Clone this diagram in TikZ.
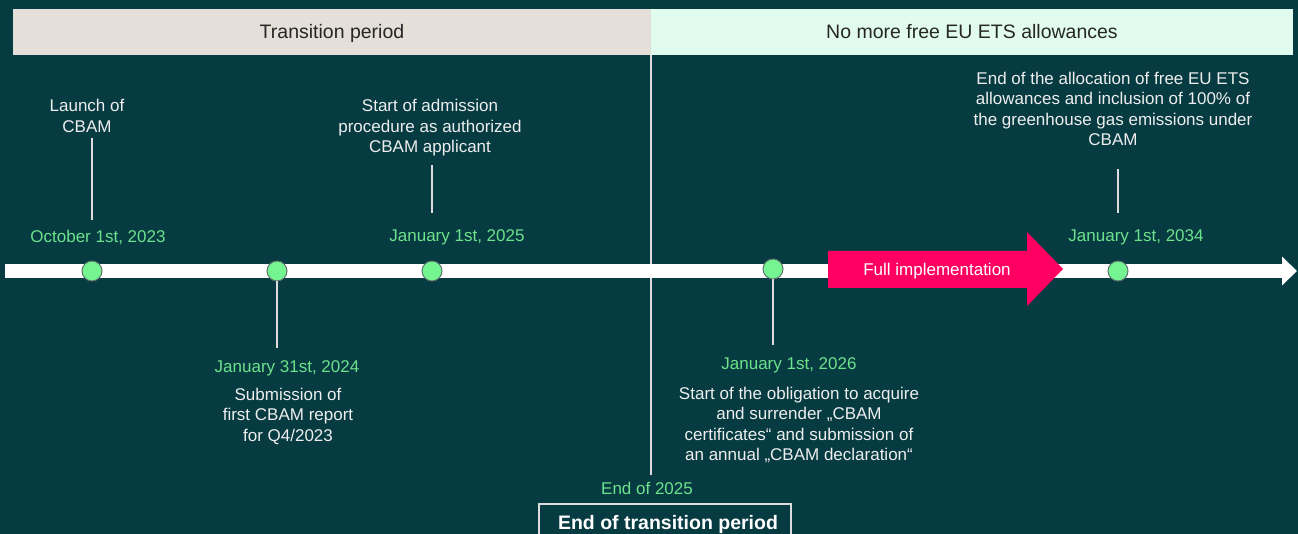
\documentclass[tikz,border=0pt]{standalone}
\usepackage{fontspec}
\setmainfont{Liberation Sans}
\usetikzlibrary{arrows.meta,calc}
\definecolor{bgc}{HTML}{063B41}
\definecolor{beige}{HTML}{E5DFD9}
\definecolor{mint}{HTML}{E1FBEE}
\definecolor{datec}{HTML}{6CE28C}
\definecolor{dotc}{HTML}{74F592}
\definecolor{dotb}{HTML}{5E706C}
\definecolor{txtc}{HTML}{EEEEEE}
\definecolor{pinkc}{HTML}{FF0062}
\definecolor{linec}{HTML}{DCDCDC}
\begin{document}
\begin{tikzpicture}[x=1pt,y=-1pt,
  topbar/.style={inner sep=0pt,minimum height=46pt,text height=17.5pt,text depth=4pt,text=black!85,font=\fontsize{19.5}{22}\selectfont},
  desc/.style={inner sep=0pt,align=center,text=txtc,font=\fontsize{17}{20.5}\selectfont},
  datelbl/.style={inner sep=0pt,text=datec,font=\fontsize{17}{20.5}\selectfont},
  milestone/.style={circle,minimum size=20pt,inner sep=0pt,fill=dotc,draw=dotb,line width=1pt},
  tick/.style={draw=linec,line width=1.5pt},
]
\useasboundingbox (0,0) rectangle (1298,534);
\fill[bgc] (0,0) rectangle (1298,534);
% top bars
\node[topbar,fill=beige,minimum width=638pt] (tp) at (332,32) {Transition period};
\node[topbar,fill=mint,minimum width=642pt] (nf) at (972,32) {No more free EU ETS allowances};
% divider
\coordinate (divtop) at (651,55);
\coordinate (divbot) at (651,475);
\draw[linec,line width=2.5pt] (divtop) -- (divbot);
% timeline
\coordinate (tlstart) at (5,271);
\coordinate (tlend) at (1297,271);
\draw[white,line width=14pt,-{Triangle[length=15pt,width=28pt]}] (tlstart) -- (tlend);
% full implementation arrow
\fill[pinkc] (828,251) -- (1027,251) -- (1027,232) -- (1063,269) -- (1027,306) -- (1027,288) -- (828,288) -- cycle;
\node[desc,text=white] (full) at (937,271) {Full implementation};
% milestones
\node[milestone] (d1) at (92,271) {};
\node[milestone] (d2) at (277,271) {};
\node[milestone] (d3) at (432,271) {};
\node[milestone] (d4) at (773,269) {};
\node[milestone] (d5) at (1118,271) {};
% labels
\node[desc] (launch) at (87,116) {Launch of\\CBAM};
\node[datelbl] (oct) at (98,237) {October 1st, 2023};
\node[desc] (admission) at (430,128) {Start of admission\\procedure as authorized\\CBAM applicant};
\node[datelbl] (jan25) at (457,237) {January 1st, 2025};
\node[datelbl] (jan24) at (287,368) {January 31st, 2024};
\node[desc] (submission) at (288,416) {Submission of\\first CBAM report\\for Q4/2023};
\node[datelbl] (jan26) at (789,365) {January 1st, 2026};
\node[desc] (obligation) at (799,425) {Start of the obligation to acquire\\and surrender „CBAM\\certificates“ and submission of\\an annual „CBAM declaration“};
\node[datelbl] (end25) at (647,488) {End of 2025};
\node[draw=linec,line width=1.5pt,minimum width=252pt,minimum height=40pt,inner sep=0pt,text=white,font=\bfseries\fontsize{19.5}{22}\selectfont] (endbox) at (665,524) {\raisebox{2pt}{\hspace{6pt}End of transition period}};
\node[datelbl] (jan34) at (1136,237) {January 1st, 2034};
\node[desc] (endalloc) at (1113,109) {End of the allocation of free EU ETS\\allowances and inclusion of 100\% of\\the greenhouse gas emissions under\\CBAM};
% ticks
\draw[tick] (d1 |- launch.south) ++(0,5) -- ($(d1 |- oct.north)+(0,-10)$);
\draw[tick] (d3 |- admission.south) ++(0,8) -- ($(d3 |- jan25.north)+(0,-16)$);
\draw[tick] (d5 |- endalloc.south) ++(0,23) -- ($(d5 |- jan34.north)+(0,-16)$);
\draw[tick] (d2.south) -- ($(d2 |- jan24.north)+(0,-12)$);
\draw[tick] (d4.south) -- ($(d4 |- jan26.north)+(0,-12)$);
\end{tikzpicture}
\end{document}
